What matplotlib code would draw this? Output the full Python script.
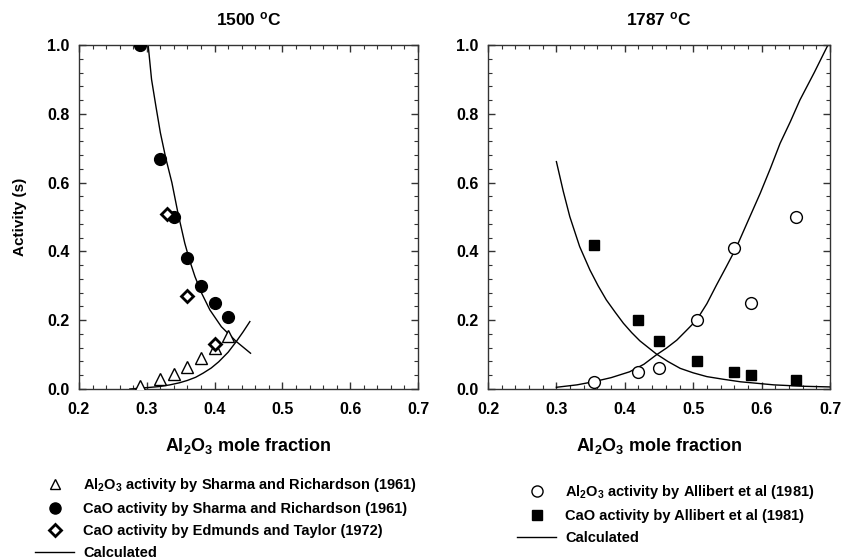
import matplotlib
matplotlib.use("Agg")
import matplotlib.pyplot as plt
from matplotlib.lines import Line2D
from matplotlib.ticker import MultipleLocator

plt.rcParams.update({
    "font.family": ["Liberation Sans", "DejaVu Sans"],
    "font.weight": "bold",
    "mathtext.default": "regular",
    "axes.linewidth": 1.0,
    "axes.edgecolor": "#333333",
})

# ---- 1500 C data ----
al_sr_x = [0.29, 0.32, 0.34, 0.36, 0.38, 0.40, 0.42]
al_sr_y = [0.01, 0.03, 0.045, 0.065, 0.09, 0.12, 0.155]
cao_sr_x = [0.29, 0.32, 0.34, 0.36, 0.38, 0.40, 0.42]
cao_sr_y = [1.0, 0.67, 0.50, 0.38, 0.30, 0.25, 0.21]
cao_et_x = [0.33, 0.36, 0.40]
cao_et_y = [0.51, 0.27, 0.13]
calc_cao_1500_x = [0.302, 0.307, 0.3135, 0.320, 0.328, 0.337, 0.346, 0.356, 0.363, 0.371, 0.381,
                   0.393, 0.410, 0.432, 0.453]
calc_cao_1500_y = [1.0, 0.90, 0.821, 0.745, 0.671, 0.60, 0.511, 0.424, 0.375, 0.327, 0.278,
                   0.230, 0.181, 0.138, 0.104]
calc_al_1500_x = [0.275, 0.30, 0.318, 0.334, 0.348, 0.36, 0.372, 0.383, 0.395, 0.406, 0.42, 0.432, 0.442, 0.452]
calc_al_1500_y = [0.0, 0.004, 0.007, 0.012, 0.018, 0.025, 0.034, 0.046, 0.061, 0.079, 0.107, 0.138, 0.166, 0.196]

# ---- 1787 C data ----
al_ab_x = [0.355, 0.42, 0.45, 0.505, 0.56, 0.585, 0.65]
al_ab_y = [0.02, 0.05, 0.06, 0.20, 0.41, 0.25, 0.50]
cao_ab_x = [0.355, 0.42, 0.45, 0.505, 0.56, 0.585, 0.65]
cao_ab_y = [0.42, 0.20, 0.14, 0.08, 0.048, 0.04, 0.025]
calc_cao_1787_x = [0.300, 0.310, 0.3196, 0.334, 0.349, 0.361, 0.373, 0.386, 0.398, 0.410, 0.422, 0.446,
                   0.463, 0.481, 0.500, 0.520, 0.545, 0.569, 0.618, 0.66, 0.70]
calc_cao_1787_y = [0.661, 0.575, 0.501, 0.414, 0.346, 0.300, 0.259, 0.223, 0.191, 0.164, 0.140, 0.102,
                   0.080, 0.060, 0.047, 0.036, 0.028, 0.021, 0.012, 0.008, 0.006]
calc_al_1787_x = [0.300, 0.33, 0.354, 0.38, 0.407, 0.428, 0.446, 0.461, 0.476, 0.490, 0.505, 0.52, 0.534,
                  0.548, 0.5625, 0.580, 0.598, 0.613, 0.627, 0.642, 0.656, 0.677, 0.697]
calc_al_1787_y = [0.005, 0.012, 0.021, 0.033, 0.050, 0.072, 0.099, 0.119, 0.142, 0.170, 0.2006, 0.248, 0.302,
                  0.354, 0.409, 0.488, 0.569, 0.642, 0.714, 0.777, 0.840, 0.920, 1.0]

titles = ["1500 $^{o}$C", "1787 $^{o}$C"]
xlabel = "Al$_2$O$_3$ mole fraction"

W, H = 842, 559
fig = plt.figure(figsize=(W / 100, H / 100), dpi=100)


def px_axes(x0, x1, y0, y1):
    return fig.add_axes([x0 / W, 1 - y1 / H, (x1 - x0) / W, (y1 - y0) / H])


ax1 = px_axes(79, 418, 45, 389)
ax2 = px_axes(488, 830, 45, 389)

for ax, title in zip((ax1, ax2), titles):
    ax.set_xlim(0.2, 0.7)
    ax.set_ylim(0.0, 1.0)
    ax.xaxis.set_major_locator(MultipleLocator(0.1))
    ax.xaxis.set_minor_locator(MultipleLocator(0.02))
    ax.yaxis.set_major_locator(MultipleLocator(0.2))
    ax.yaxis.set_minor_locator(MultipleLocator(0.04))
    ax.xaxis.set_major_formatter(plt.FormatStrFormatter("%.1f"))
    ax.yaxis.set_major_formatter(plt.FormatStrFormatter("%.1f"))
    ax.tick_params(which="both", direction="in", top=True, right=True,
                   labelsize=11.5, color="#333333")
    ax.tick_params(which="major", length=5, width=1)
    ax.tick_params(axis="x", which="major", pad=9)
    ax.tick_params(axis="y", which="major", pad=7)
    ax.tick_params(which="minor", length=3, width=0.8)
    for lab in ax.get_xticklabels() + ax.get_yticklabels():
        lab.set_fontweight("bold")
    ax.set_title(title, fontsize=12.5, fontweight="bold", pad=14)
    ax.set_xlabel(xlabel, fontsize=13, fontweight="bold", labelpad=14)

ax1.set_ylabel("Activity (s)", fontsize=11, fontweight="bold", labelpad=14)

# left panel
ax1.plot(calc_cao_1500_x, calc_cao_1500_y, color="black", lw=1.0, zorder=2)
ax1.plot(calc_al_1500_x, calc_al_1500_y, color="black", lw=1.0, zorder=2)
ax1.plot(al_sr_x, al_sr_y, ls="none", marker="^", ms=9, mfc="white", mec="black", mew=1.0, zorder=3)
ax1.plot(cao_sr_x, cao_sr_y, ls="none", marker="o", ms=8.5, mfc="black", mec="black", zorder=3)
ax1.plot(cao_et_x, cao_et_y, ls="none", marker="D", ms=6, mfc="white", mec="black", mew=2.0, zorder=4)

# right panel
ax2.plot(calc_cao_1787_x, calc_cao_1787_y, color="black", lw=1.0, zorder=2)
ax2.plot(calc_al_1787_x, calc_al_1787_y, color="black", lw=1.0, zorder=2)
ax2.plot(al_ab_x, al_ab_y, ls="none", marker="o", ms=8.5, mfc="white", mec="black", mew=1.0, zorder=3)
ax2.plot(cao_ab_x, cao_ab_y, ls="none", marker="s", ms=7.5, mfc="black", mec="black", zorder=3)

# legends
left_handles = [
    Line2D([], [], ls="none", marker="^", ms=7, mfc="white", mec="black", mew=1.0),
    Line2D([], [], ls="none", marker="o", ms=8, mfc="black", mec="black"),
    Line2D([], [], ls="none", marker="D", ms=6, mfc="white", mec="black", mew=2.0),
    Line2D([], [], color="black", lw=1.0),
]
left_labels = [
    "Al$_2$O$_3$ activity by Sharma and Richardson (1961)",
    "CaO activity by Sharma and Richardson (1961)",
    "CaO activity by Edmunds and Taylor (1972)",
    "Calculated",
]
right_handles = [
    Line2D([], [], ls="none", marker="o", ms=8, mfc="white", mec="black", mew=1.0),
    Line2D([], [], ls="none", marker="s", ms=7, mfc="black", mec="black"),
    Line2D([], [], color="black", lw=1.0),
]
right_labels = [
    "Al$_2$O$_3$ activity by Allibert et al (1981)",
    "CaO activity by Allibert et al (1981)",
    "Calculated",
]

common = dict(frameon=False, borderpad=0, borderaxespad=0, handlelength=2.7,
              handletextpad=0.6, labelspacing=0.55,
              prop={"size": 10.5, "weight": "bold"})
fig.legend(left_handles, left_labels, loc="upper left",
           bbox_to_anchor=(35 / W, 1 - 476 / H), **common)
fig.legend(right_handles, right_labels, loc="upper left",
           bbox_to_anchor=(517 / W, 1 - 483 / H), **common)

fig.savefig("out.png", dpi=100)
